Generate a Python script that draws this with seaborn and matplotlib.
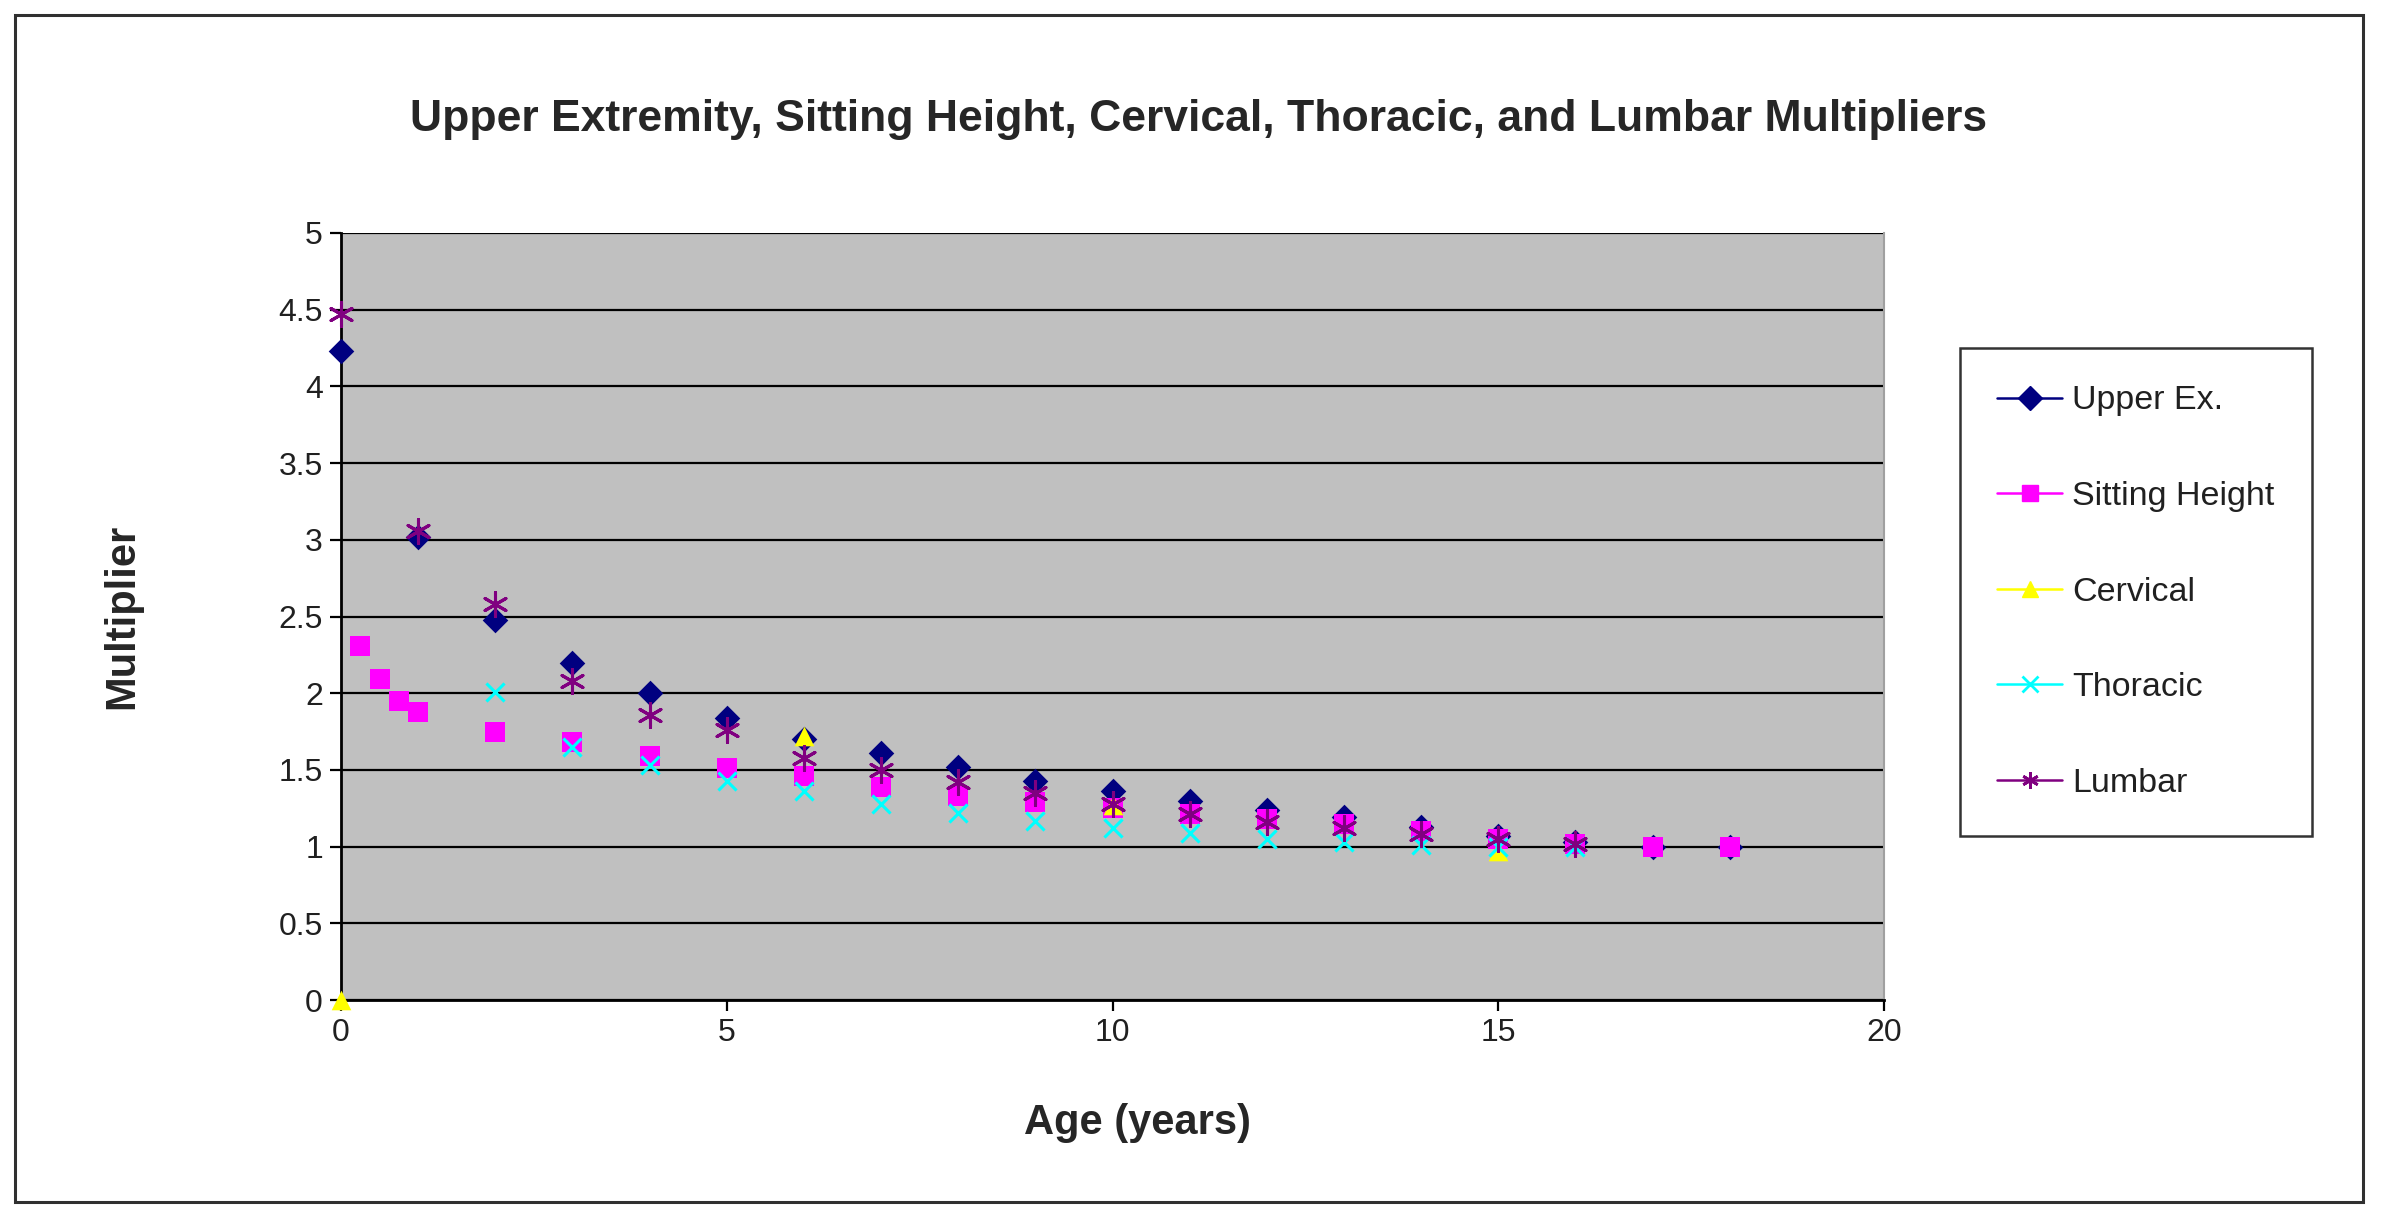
import matplotlib
matplotlib.use("Agg")
import matplotlib.pyplot as plt
from matplotlib.lines import Line2D
from matplotlib.patches import Rectangle
import seaborn as sns
import pandas as pd

# values
upper_ages = [0, 1, 2, 3, 4, 5, 6, 7, 8, 9, 10, 11, 12, 13, 14, 15, 16, 17, 18]
upper_vals = [4.23, 3.02, 2.48, 2.20, 2.00, 1.84, 1.70, 1.61, 1.52, 1.43, 1.36,
              1.30, 1.24, 1.19, 1.13, 1.07, 1.03, 1.00, 1.00]

sitting_ages = [0.25, 0.5, 0.75, 1, 2, 3, 4, 5, 6, 7, 8, 9, 10, 11, 12, 13, 14, 15, 16, 17, 18]
sitting_vals = [2.31, 2.09, 1.95, 1.88, 1.75, 1.68, 1.59, 1.51, 1.46, 1.39, 1.33,
                1.29, 1.25, 1.21, 1.18, 1.15, 1.10, 1.05, 1.02, 1.00, 1.00]

cervical_ages = [0, 6, 10, 15]
cervical_vals = [0.0, 1.72, 1.27, 0.97]

thoracic_ages = [2, 3, 4, 5, 6, 7, 8, 9, 10, 11, 12, 13, 14, 15, 16]
thoracic_vals = [2.01, 1.65, 1.53, 1.43, 1.36, 1.28, 1.22, 1.17, 1.12, 1.09,
                 1.05, 1.03, 1.01, 1.00, 1.00]

lumbar_ages = [0, 1, 2, 3, 4, 5, 6, 7, 8, 9, 10, 11, 12, 13, 14, 15, 16]
lumbar_vals = [4.47, 3.06, 2.58, 2.08, 1.86, 1.76, 1.58, 1.50, 1.42, 1.35,
               1.28, 1.21, 1.16, 1.12, 1.08, 1.05, 1.02]

names = ["Upper Ex.", "Sitting Height", "Cervical", "Thoracic", "Lumbar"]
colors = ["#000080", "#FF00FF", "#FFFF00", "#00FFFF", "#800080"]
markers = ["D", "s", "^", "x", (6, 2, 0)]
sizes = [170, 190, 200, 170, 300]

series = [(upper_ages, upper_vals), (sitting_ages, sitting_vals),
          (cervical_ages, cervical_vals), (thoracic_ages, thoracic_vals),
          (lumbar_ages, lumbar_vals)]

sns.set_style("white")
plt.rcParams['font.family'] = ['Liberation Sans', 'DejaVu Sans']

W, H = 2386, 1217
fig = plt.figure(figsize=(W / 100, H / 100), dpi=100)
ax = fig.add_axes([341 / W, 1 - 1000 / H, (1884 - 341) / W, (1000 - 233) / H])
ax.set_facecolor("#C0C0C0")

for i, (xs, ys) in enumerate(series):
    df = pd.DataFrame({"age": xs, "mult": ys})
    lw = 2.2 if markers[i] in ("x", (6, 2, 0)) else 0
    sns.scatterplot(data=df, x="age", y="mult", ax=ax, color=colors[i],
                    marker=markers[i], s=sizes[i], linewidth=lw,
                    edgecolor=colors[i], zorder=3 + i, clip_on=False, legend=False)

ax.set_xlim(0, 20)
ax.set_ylim(0, 5)
ax.set_xticks([0, 5, 10, 15, 20])
ax.set_yticks([0, 0.5, 1, 1.5, 2, 2.5, 3, 3.5, 4, 4.5, 5])
ax.set_yticklabels(["0", "0.5", "1", "1.5", "2", "2.5", "3", "3.5", "4", "4.5", "5"])
ax.yaxis.grid(True, color="black", linewidth=1.6)
ax.xaxis.grid(False)
ax.set_axisbelow(True)
ax.tick_params(axis="both", direction="out", length=8, width=1.6, colors="black",
               labelsize=23, labelcolor="#202020", pad=5)
ax.tick_params(axis="y", left=True)
ax.tick_params(axis="x", bottom=True)
for side in ["left", "bottom"]:
    ax.spines[side].set_color("black")
    ax.spines[side].set_linewidth(2)
ax.spines["top"].set_visible(False)
ax.spines["right"].set_color("#A0A0A0")
ax.spines["right"].set_linewidth(1.5)
ax.set_xlabel("")
ax.set_ylabel("")

fig.text(1199 / W, 1 - 120 / H,
         "Upper Extremity, Sitting Height, Cervical, Thoracic, and Lumbar Multipliers",
         ha="center", va="center", fontsize=32, fontweight="bold")
fig.text(1138 / W, 1 - 1123 / H, "Age (years)", ha="center", va="center",
         fontsize=30, fontweight="bold")
fig.text(122 / W, 1 - 616 / H, "Multiplier", ha="center", va="center",
         fontsize=30, fontweight="bold", rotation=90)

handles = [Line2D([0], [0], color=colors[i], marker=markers[i], markersize=12,
                  markeredgewidth=2 if markers[i] in ("x", (6, 2, 0)) else 1,
                  linewidth=1.8, markeredgecolor=colors[i])
           for i in range(5)]
leg = fig.legend(handles, names, loc="upper left",
                 bbox_to_anchor=(1960 / W, 1 - 348 / H), fontsize=24.5,
                 frameon=True, fancybox=False, edgecolor="black",
                 handlelength=1.9, handletextpad=0.3, labelspacing=1.9,
                 borderpad=1.1, borderaxespad=0)
leg.get_frame().set_linewidth(1.8)
for t in leg.get_texts():
    t.set_color("#202020")

fig.patches.append(Rectangle((15 / W, 1 - 1202 / H), 2348 / W, 1187 / H,
                             transform=fig.transFigure, fill=False,
                             edgecolor="#303030", linewidth=2.2))

fig.savefig("out.png", dpi=100, facecolor="white")
